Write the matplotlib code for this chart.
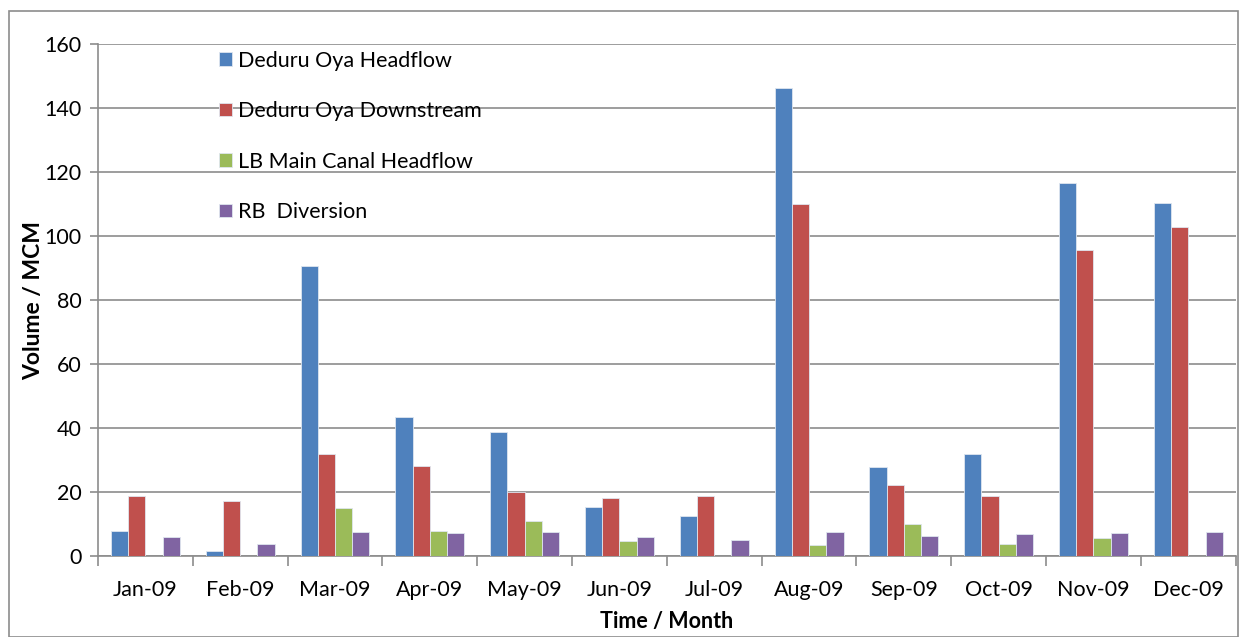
import numpy as np
import matplotlib.pyplot as plt
from matplotlib.patches import Rectangle

# data
months = ["Jan-09", "Feb-09", "Mar-09", "Apr-09", "May-09", "Jun-09",
          "Jul-09", "Aug-09", "Sep-09", "Oct-09", "Nov-09", "Dec-09"]
headflow = [7.8, 1.5, 90.6, 43.4, 38.8, 15.4, 12.4, 146.3, 27.8, 32.0, 116.7, 110.3]
downstream = [18.7, 17.1, 32.0, 28.1, 20.0, 18.1, 18.7, 110.0, 22.2, 18.7, 95.5, 102.7]
lb_canal = [0, 0, 15.0, 7.8, 11.0, 4.8, 0, 3.5, 10.0, 3.8, 5.6, 0]
rb_diversion = [5.9, 3.7, 7.6, 7.3, 7.6, 6.0, 5.0, 7.6, 6.3, 6.8, 7.3, 7.6]

series = [
    ("Deduru Oya Headflow", headflow, "#4F81BD"),
    ("Deduru Oya Downstream", downstream, "#C0504D"),
    ("LB Main Canal Headflow", lb_canal, "#9BBB59"),
    ("RB  Diversion", rb_diversion, "#8064A2"),
]

plt.rcParams['font.family'] = ['Lato', 'DejaVu Sans']
fs = 15.5

fig = plt.figure(figsize=(12.42, 6.37), dpi=100)
# rand gri in jurul figurii
fig.patches.append(Rectangle((0.007, 0.0), 0.99, 0.983, transform=fig.transFigure,
                             fill=False, edgecolor="#8c8c8c", linewidth=1.2))
ax = fig.add_axes([0.0789, 0.127, 0.916, 0.804])

x = np.arange(len(months))
w = 1 / 5.5
for i, (name, vals, col) in enumerate(series):
    ax.bar(x + (i - 1.5) * w, vals, width=w, color=col, edgecolor="#dfe6ef",
           linewidth=0.6, label=name, zorder=3)

ax.set_xlim(-0.5, len(months) - 0.5)
ax.set_ylim(0, 160)
ax.set_yticks(range(0, 161, 20))
ax.grid(axis="y", color="#8c8c8c", linewidth=1.2, zorder=0)

ax.set_xticks(x)
ax.set_xticklabels(months, fontsize=fs)
ax.set_xticks(np.arange(-0.5, len(months)), minor=True)
ax.tick_params(axis="x", which="major", length=0, pad=17)
ax.tick_params(axis="x", which="minor", length=7, width=1.2, color="#8c8c8c", direction="out")
ax.tick_params(axis="y", length=6, width=1.2, color="#8c8c8c", labelsize=fs, pad=6)

for s in ["top", "right"]:
    ax.spines[s].set_visible(False)
for s in ["left", "bottom"]:
    ax.spines[s].set_color("#8c8c8c")
    ax.spines[s].set_linewidth(1.2)

ax.set_ylabel("Volume / MCM", fontsize=16.5, fontweight="bold", labelpad=0)
ax.set_xlabel("Time / Month", fontsize=fs, fontweight="bold", labelpad=8)

ax.legend(loc="upper left", bbox_to_anchor=(0.089, 1.025), frameon=False, fontsize=fs,
          labelspacing=1.42, handlelength=0.6, handleheight=0.6, handletextpad=0.3)

fig.savefig("out.png", dpi=100)
